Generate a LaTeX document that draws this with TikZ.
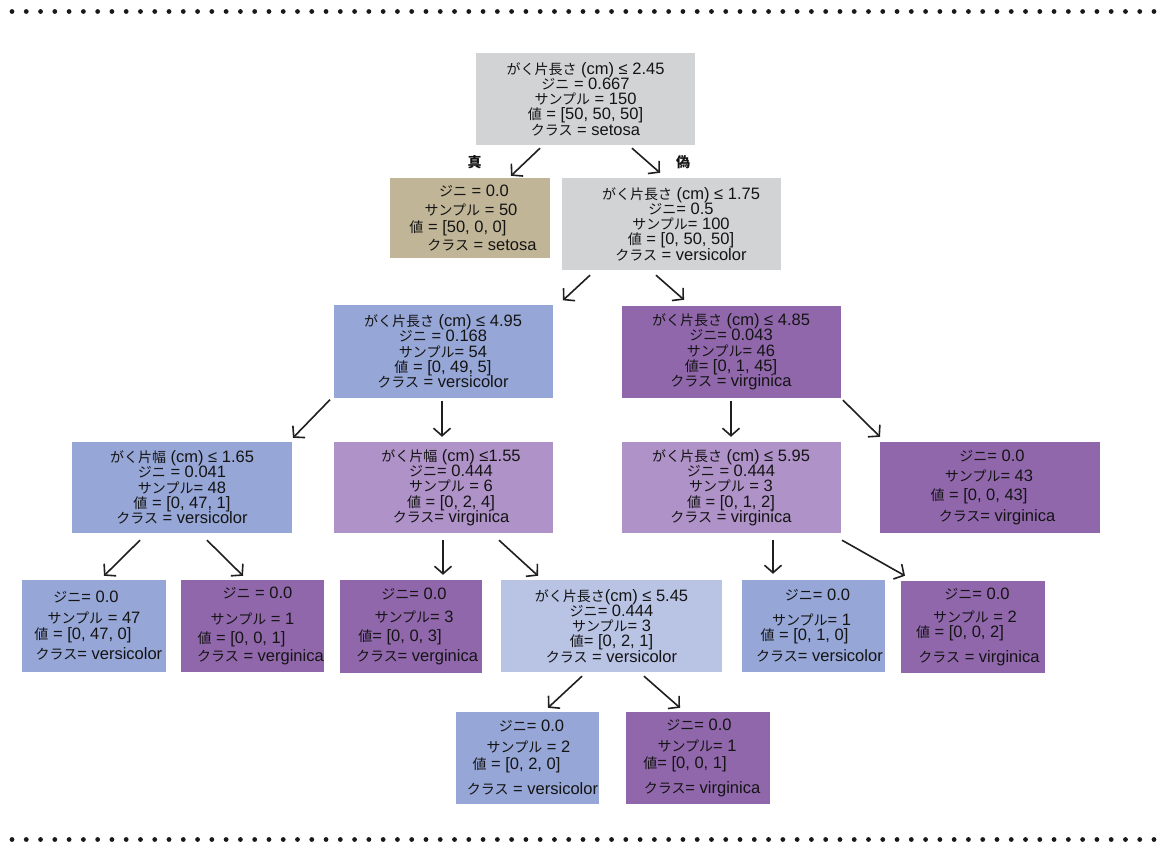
\documentclass[tikz,border=0pt]{standalone}
\usepackage{fontspec}
\setmainfont{Liberation Sans}
\newfontfamily\jpf{Noto Sans CJK JP}
\usetikzlibrary{arrows.meta,calc}
\definecolor{cgray}{RGB}{209,211,212}
\definecolor{ctan}{RGB}{193,181,151}
\definecolor{cblue}{RGB}{150,166,214}
\definecolor{cpurple}{RGB}{145,103,172}
\definecolor{clpurple}{RGB}{175,146,199}
\definecolor{cpale}{RGB}{185,195,228}
\newcommand\J[1]{{\jpf\fontsize{14}{15.3}\selectfont #1}}
\newcommand\GL{\J{がく片長さ}}
\newcommand\GW{\J{がく片幅}}
\newcommand\GN{\J{ジニ}}
\newcommand\SP{\J{サンプル}}
\newcommand\VA{\J{値}}
\newcommand\CL{\J{クラス}}
\newcommand\sh[1]{\hspace*{#1}}
\newcommand\boxfont{\fontsize{16.5}{15.3}\selectfont}
\lineskiplimit=-30pt
\lineskip=0pt
\begin{document}
\lineskiplimit=-30pt
\lineskip=0pt
\begin{tikzpicture}[x=1pt,y=-1pt,
  box/.style={rectangle, inner sep=0pt, align=center, text=black!92, font=\boxfont},
  inner/.style={box, minimum width=219pt, minimum height=92pt},
  leaf/.style={box, minimum width=143.5pt, minimum height=92pt},
  arr/.style={line width=1.6pt, draw=black!88, -{Straight Barb[length=7.5pt,width=17pt]}},
  lbl/.style={inner sep=0pt, font=\jpf\fontsize{14}{15}\selectfont\bfseries, text=black!92},
  dotfill/.style={fill=black!90, draw=none}]
\useasboundingbox (0,0) rectangle (1160,845);
% dotted rules
\foreach \i in {0,...,80} {
  \fill[dotfill] (12+\i*14.275,11.5) circle (2.4pt);
  \fill[dotfill] (12+\i*14.275,839.5) circle (2.4pt);
}
% nodes
\node[inner, fill=cgray] (root) at (585.5,99)
  {\GL{} (cm) ≤ 2.45\\\GN{} = 0.667\\\SP{} = 150\\\VA{} = [50, 50, 50]\\\CL{} = setosa};
\node[box, fill=ctan, minimum width=160pt, minimum height=80pt] (set) at (470,218)
  {\sh{8pt}\GN{} = 0.0\\[3.7pt]\sh{2pt}\SP{} = 50\\[1.7pt]\sh{-24pt}\VA{} = [50, 0, 0]\\[2.7pt]\sh{24pt}\CL{} = setosa};
\node[inner, fill=cgray] (n2) at (671,224)
  {\sh{20pt}\GL{} (cm) ≤ 1.75\\\sh{20pt}\GN= 0.5\\\sh{20pt}\SP= 100\\\sh{20pt}\VA{} = [0, 50, 50]\\\sh{20pt}\CL{} = versicolor};
\node[inner, fill=cblue] (n3) at (443,351.5)
  {\GL{} (cm) ≤ 4.95\\\GN{} = 0.168\\\SP= 54\\\VA{} = [0, 49, 5]\\\CL{} = versicolor};
\node[inner, fill=cpurple] (n4) at (731,352)
  {\GL{} (cm) ≤ 4.85\\\GN= 0.043\\\SP= 46\\\VA= [0, 1, 45]\\\CL{} = virginica};
\node[inner, fill=cblue, minimum width=220pt, minimum height=91pt] (n5) at (182,487.5)
  {\GW{} (cm) ≤ 1.65\\\GN{} = 0.041\\\SP= 48\\\VA{} = [0, 47, 1]\\\CL{} = versicolor};
\node[inner, fill=clpurple, minimum height=91pt] (n6) at (443,487.5)
  {\sh{16pt}\GW{} (cm) ≤1.55\\\sh{16pt}\GN= 0.444\\\sh{16pt}\SP{} = 6\\\sh{16pt}\VA{} = [0, 2, 4]\\\sh{16pt}\CL= virginica};
\node[inner, fill=clpurple, minimum height=91pt] (n7) at (731,487.5)
  {\GL{} (cm) ≤ 5.95\\\GN{} = 0.444\\\SP{} = 3\\\VA{} = [0, 1, 2]\\\CL{} = virginica};
\node[inner, fill=cpurple, minimum width=220pt, minimum height=91pt] (n8) at (990,487.5)
  {\sh{4pt}\GN= 0.0\\[4.7pt]\sh{-2pt}\SP= 43\\[3.7pt]\sh{-22pt}\VA{} = [0, 0, 43]\\[5.7pt]\sh{14pt}\CL= virginica};
\node[leaf, fill=cblue, minimum width=144pt] (l47) at (94,626)
  {\sh{-16pt}\GN= 0.0\\[5.7pt]\SP{} = 47\\[0.7pt]\sh{-22pt}\VA{} = [0, 47, 0]\\[4.7pt]\sh{10pt}\CL= versicolor};
\node[leaf, fill=cpurple, minimum width=143pt] (l1) at (252.5,626)
  {\sh{10pt}\GN{} = 0.0\\[10.7pt]\SP{} = 1\\[3.7pt]\sh{-22pt}\VA{} = [0, 0, 1]\\[2.7pt]\sh{16pt}\CL{} = verginica};
\node[leaf, fill=cpurple, minimum width=142pt, minimum height=93pt] (l3) at (411,626.5)
  {\sh{6pt}\GN= 0.0\\[7.7pt]\sh{6pt}\SP= 3\\[3.7pt]\sh{-22pt}\VA= [0, 0, 3]\\[4.7pt]\sh{12pt}\CL= verginica};
\node[inner, fill=cpale, minimum width=221pt] (n545) at (611.5,626)
  {\GL(cm) ≤ 5.45\\\GN= 0.444\\\SP= 3\\\VA= [0, 2, 1]\\\CL{} = versicolor};
\node[leaf, fill=cblue, minimum width=143pt] (l1v) at (813.5,626)
  {\sh{8pt}\GN= 0.0\\[9.7pt]\sh{-4pt}\SP= 1\\[-0.3pt]\sh{-18pt}\VA{} = [0, 1, 0]\\[5.7pt]\sh{12pt}\CL= versicolor};
\node[leaf, fill=cpurple, minimum width=144pt] (l2) at (973,627)
  {\sh{8pt}\GN= 0.0\\[7.7pt]\sh{4pt}\SP{} = 2\\[-0.3pt]\sh{-26pt}\VA{} = [0, 0, 2]\\[9.7pt]\sh{12pt}\CL{} = virginica};
\node[leaf, fill=cblue, minimum width=143pt] (l2v) at (527.5,758)
  {\sh{8pt}\GN= 0.0\\[5.7pt]\sh{2pt}\SP{} = 2\\[1.7pt]\sh{-22pt}\VA{} = [0, 2, 0]\\[9.7pt]\sh{10pt}\CL{} = versicolor};
\node[leaf, fill=cpurple, minimum width=144pt] (l1vg) at (698,758)
  {\sh{2pt}\GN= 0.0\\[5.7pt]\sh{-2pt}\SP= 1\\[1.7pt]\sh{-26pt}\VA= [0, 0, 1]\\[9.7pt]\sh{8pt}\CL= virginica};
% edge labels
\node[lbl] (lt) at (474.5,162) {真};
\node[lbl] (lf) at (683,162) {偽};
% connectors
\draw[arr] ($(root.south)+(-45.5,3)$) -- ($(set.north)+(41,-2)$);
\draw[arr] ($(root.south)+(46.5,3)$) -- ($(n2.north)+(-11,-5)$);
\draw[arr] ($(n2.south)+(-81,5)$) -- ($(n3.north)+(120,-5)$);
\draw[arr] ($(n2.south)+(-15,5)$) -- ($(n4.north)+(-47,-6)$);
\draw[arr] ($(n3.south)+(-113,2)$) -- ($(n5.north)+(111,-4)$);
\draw[arr] ($(n3.south)+(-1,3)$) -- ($(n6.north)+(-1,-5)$);
\draw[arr] ($(n4.south)+(0,3)$) -- ($(n7.north)+(0,-5)$);
\draw[arr] ($(n4.south)+(112,2)$) -- ($(n8.north)+(-110,-5)$);
\draw[arr] ($(n5.south)+(-42,7)$) -- ($(l47.north)+(10,-4)$);
\draw[arr] ($(n5.south)+(25,7)$) -- ($(l1.north)+(-9.5,-4)$);
\draw[arr] ($(n6.south)+(0,7)$) -- ($(l3.north)+(32,-5)$);
\draw[arr] ($(n6.south)+(56,7)$) -- ($(n545.north)+(-73.5,-4)$);
\draw[arr] ($(n7.south)+(42,7)$) -- ($(l1v.north)+(-40.5,-6)$);
\draw[arr] ($(n7.south)+(111,7)$) -- ($(l2.north)+(-68,-5)$);
\draw[arr] ($(n545.south)+(-29.5,4)$) -- ($(l2v.north)+(20.5,-4)$);
\draw[arr] ($(n545.south)+(32.5,4)$) -- ($(l1vg.north)+(-18,-4)$);
\end{tikzpicture}
\end{document}
